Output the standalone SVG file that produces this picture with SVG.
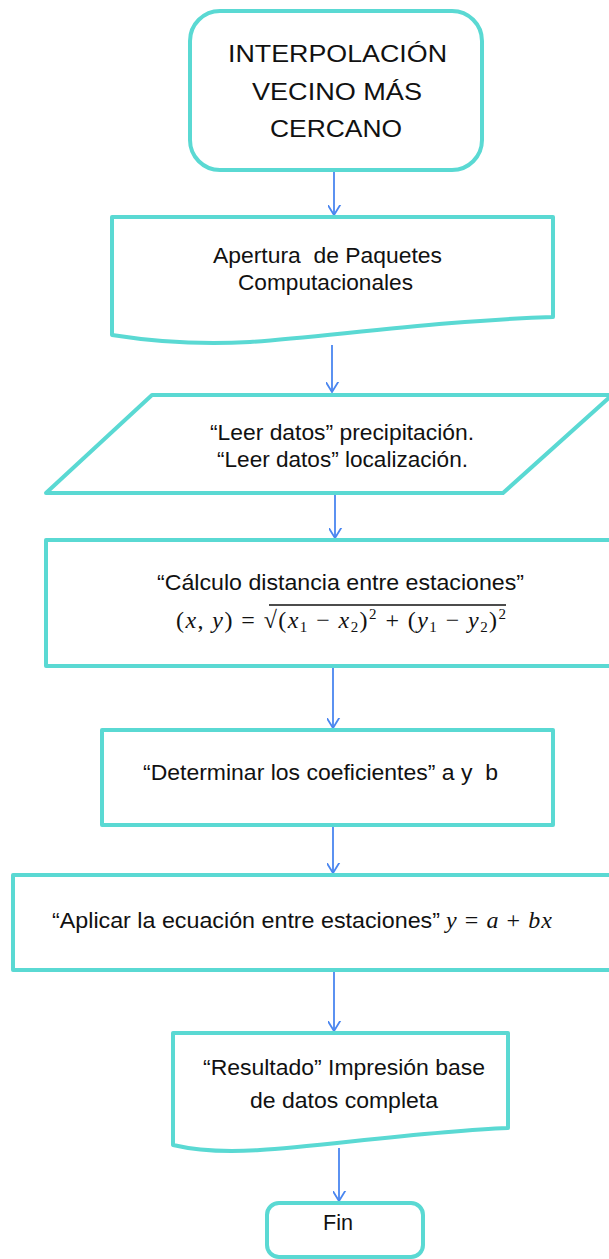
<svg xmlns="http://www.w3.org/2000/svg" width="609" height="1259" viewBox="0 0 609 1259">
<style>
.box{fill:#fff;stroke:#5ad9d3;stroke-width:4;stroke-linejoin:round}
.lbl{font-family:"Liberation Sans",Arial,sans-serif;font-size:22px;fill:#111;white-space:pre}
.ttl{font-family:"Liberation Sans",Arial,sans-serif;font-size:24px;fill:#111}
.math{font-family:"Liberation Serif","DejaVu Serif",serif;font-size:24px;fill:#111}
.it{font-style:italic}
.sub{font-size:15px}
.conn{stroke:#4a86f0;stroke-width:1.8;fill:none}
</style>
<defs>
<marker id="arr" markerUnits="userSpaceOnUse" markerWidth="20" markerHeight="20" refX="10" refY="14" orient="auto-start-reverse" viewBox="0 0 20 20">
<path d="M2,1 L10,14 L18,1" transform="rotate(-90 10 14)" fill="none" stroke="#4a86f0" stroke-width="1.8"/>
</marker>
</defs>
<rect width="609" height="1259" fill="#fff"/>
<g id="connectors">
<line class="conn" x1="334" y1="172" x2="334" y2="215" marker-end="url(#arr)"/>
<line class="conn" x1="332" y1="345" x2="332" y2="392" marker-end="url(#arr)"/>
<line class="conn" x1="335" y1="495" x2="335" y2="538" marker-end="url(#arr)"/>
<line class="conn" x1="333" y1="668" x2="333" y2="728" marker-end="url(#arr)"/>
<line class="conn" x1="333" y1="818" x2="333" y2="873" marker-end="url(#arr)"/>
<line class="conn" x1="334" y1="972" x2="334" y2="1031" marker-end="url(#arr)"/>
<line class="conn" x1="339" y1="1148" x2="339" y2="1201" marker-end="url(#arr)"/>
</g>
<g id="start">
<rect class="box" x="190" y="11" width="292" height="159" rx="30"/>
<text class="ttl" x="228" y="62" textLength="219" lengthAdjust="spacingAndGlyphs">INTERPOLACIÓN</text>
<text class="ttl" x="252" y="100" textLength="170" lengthAdjust="spacingAndGlyphs">VECINO MÁS</text>
<text class="ttl" x="270" y="137" textLength="132" lengthAdjust="spacingAndGlyphs">CERCANO</text>
</g>
<g id="paquetes">
<path class="box" d="M112,217 H553 V317 C450,320 330,336 250,342 C200,345 150,341 112,335 Z"/>
<text class="lbl" x="213" y="263" textLength="229" lengthAdjust="spacingAndGlyphs">Apertura  de Paquetes</text>
<text class="lbl" x="238" y="290" textLength="175" lengthAdjust="spacingAndGlyphs">Computacionales</text>
</g>
<g id="leer">
<polygon class="box" points="152,395 612,395 503,493 46,493"/>
<text class="lbl" x="210" y="440" textLength="264" lengthAdjust="spacingAndGlyphs">“Leer datos” precipitación.</text>
<text class="lbl" x="217" y="467" textLength="251" lengthAdjust="spacingAndGlyphs">“Leer datos” localización.</text>
</g>
<g id="distancia">
<rect class="box" x="46" y="540" width="600" height="126"/>
<text class="lbl" x="157" y="590" textLength="367" lengthAdjust="spacingAndGlyphs">“Cálculo distancia entre estaciones”</text>
<text class="math" x="176" y="628" textLength="330" lengthAdjust="spacing">(<tspan class="it">x</tspan>, <tspan class="it">y</tspan>) = √(<tspan class="it">x</tspan><tspan class="sub" dy="4">1</tspan><tspan dy="-4"> − </tspan><tspan class="it">x</tspan><tspan class="sub" dy="4">2</tspan><tspan dy="-4">)</tspan><tspan class="sub" dy="-9">2</tspan><tspan dy="9"> + (</tspan><tspan class="it">y</tspan><tspan class="sub" dy="4">1</tspan><tspan dy="-4"> − </tspan><tspan class="it">y</tspan><tspan class="sub" dy="4">2</tspan><tspan dy="-4">)</tspan><tspan class="sub" dy="-9">2</tspan></text>
<line x1="269" y1="605" x2="506" y2="605" stroke="#111" stroke-width="1.3"/>
</g>
<g id="coeficientes">
<rect class="box" x="102" y="730" width="451" height="95"/>
<text class="lbl" x="143" y="780" textLength="355" lengthAdjust="spacingAndGlyphs">“Determinar los coeficientes” a y  b</text>
</g>
<g id="ecuacion">
<rect class="box" x="13" y="875" width="630" height="95"/>
<text class="lbl" x="52" y="928" textLength="388" lengthAdjust="spacingAndGlyphs">“Aplicar la ecuación entre estaciones”</text>
<text class="math" x="446" y="928" textLength="106" lengthAdjust="spacing"><tspan class="it">y</tspan> = <tspan class="it">a</tspan> + <tspan class="it">bx</tspan></text>
</g>
<g id="resultado">
<path class="box" d="M173,1033 H508 V1128 C430,1131 320,1146 260,1150 C215,1153 190,1149 173,1145 Z"/>
<text class="lbl" x="203" y="1075" textLength="282" lengthAdjust="spacingAndGlyphs">“Resultado” Impresión base</text>
<text class="lbl" x="250" y="1108" textLength="188" lengthAdjust="spacingAndGlyphs">de datos completa</text>
</g>
<g id="fin">
<rect class="box" x="267" y="1203" width="156" height="54" rx="12"/>
<text class="lbl" x="323" y="1230" textLength="30" lengthAdjust="spacingAndGlyphs">Fin</text>
</g>
</svg>
